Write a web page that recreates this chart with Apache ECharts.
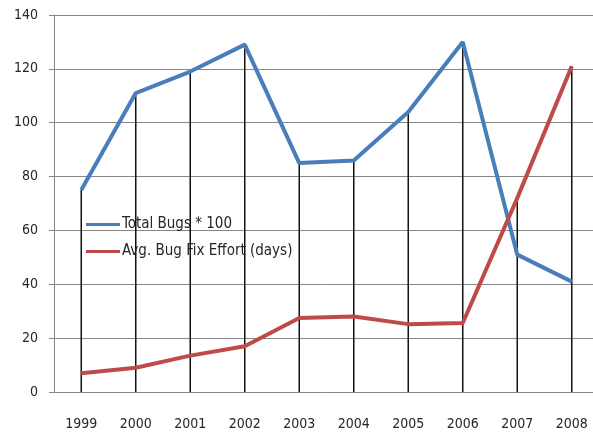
<!DOCTYPE html>
<html>
<head>
<meta charset="utf-8">
<script src="https://cdn.jsdelivr.net/npm/echarts@6/dist/echarts.min.js"></script>
<style>
html,body{margin:0;padding:0;background:#fff;overflow:hidden;}
#chart{width:599px;height:434px;}
</style>
</head>
<body>
<div id="chart"></div>
<script>
var years = ['1999','2000','2001','2002','2003','2004','2005','2006','2007','2008'];
var totalBugs = [75, 111, 119, 129, 85, 86, 104, 130, 51, 41];
var fixEffort = [7, 9, 13.5, 17, 27.5, 28, 25.2, 25.6, 72, 121];
var yTicks = [0, 20, 40, 60, 80, 100, 120, 140];
var seriesNames = ['Total Bugs * 100', 'Avg. Bug Fix Effort (days)'];

var dropTops = years.map(function (_, i) { return Math.max(totalBugs[i], fixEffort[i]); });
var FONT = "'DejaVu Sans Condensed','Liberation Sans Narrow','DejaVu Sans',sans-serif";

var chart = echarts.init(document.getElementById('chart'), null, {renderer: 'canvas'});
chart.setOption({
  backgroundColor: '#ffffff',
  animation: false,
  grid: {left: 54, right: 0, top: 15, bottom: 42, containLabel: false},
  legend: {
    data: seriesNames,
    orient: 'vertical',
    left: 86,
    top: 217,
    padding: 0,
    icon: 'rect',
    itemWidth: 34,
    itemHeight: 3,
    itemGap: 12,
    textStyle: {fontFamily: FONT, fontSize: 15, color: '#262626', padding: [0, 0, 0, -3]}
  },
  xAxis: {
    type: 'category',
    data: years,
    boundaryGap: true,
    axisLine: {show: true, lineStyle: {color: '#868686', width: 1}},
    axisTick: {show: false},
    axisLabel: {fontFamily: FONT, fontSize: 14, color: '#262626', margin: 25, interval: 0},
    splitLine: {show: false}
  },
  yAxis: {
    type: 'value',
    min: yTicks[0],
    max: yTicks[yTicks.length - 1],
    interval: 20,
    axisLine: {show: true, lineStyle: {color: '#868686', width: 1}},
    axisTick: {show: true, length: 5, lineStyle: {color: '#868686'}},
    axisLabel: {fontFamily: FONT, fontSize: 14, color: '#262626', margin: 16},
    splitLine: {show: true, lineStyle: {color: '#868686', width: 1}}
  },
  series: [
    {
      name: 'drop',
      type: 'bar',
      data: dropTops,
      barWidth: 1.5,
      itemStyle: {color: '#111111'},
      z: 1,
      silent: true
    },
    {
      name: seriesNames[0],
      type: 'line',
      data: totalBugs,
      symbol: 'none',
      lineStyle: {color: '#4a7ebb', width: 4},
      itemStyle: {color: '#4a7ebb'},
      z: 3
    },
    {
      name: seriesNames[1],
      type: 'line',
      data: fixEffort,
      symbol: 'none',
      lineStyle: {color: '#be4b48', width: 4},
      itemStyle: {color: '#be4b48'},
      z: 4
    }
  ]
});
</script>
</body>
</html>
